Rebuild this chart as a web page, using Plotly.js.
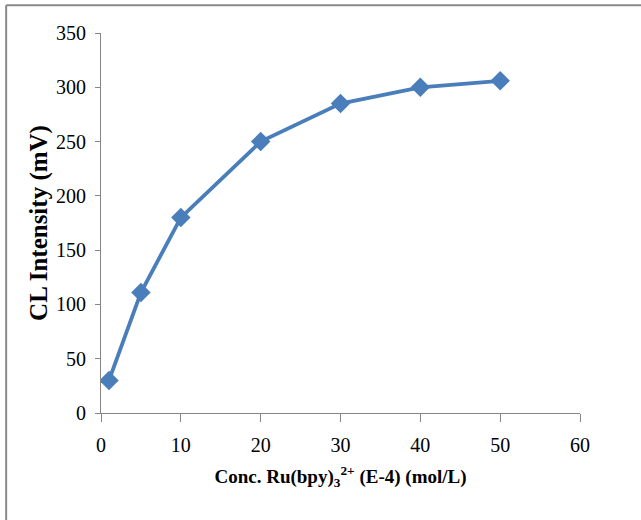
<!DOCTYPE html>
<html>
<head>
<meta charset="utf-8">
<script src="https://cdn.plot.ly/plotly-3.0.1.min.js"></script>
<style>
html,body{margin:0;padding:0;background:#fff;}
#chart{width:641px;height:520px;}
</style>
</head>
<body>
<div id="chart"></div>
<script>
// Data
const concentration = [1, 5, 10, 20, 30, 40, 50];
const clIntensity = [30, 111, 180, 250, 285, 300, 306];
const xTickValues = [0, 10, 20, 30, 40, 50, 60];
const yTickValues = [0, 50, 100, 150, 200, 250, 300, 350];
const xTitle = 'Conc. Ru(bpy)<sub>3</sub><sup>2+</sup> (E-4) (mol/L)';
const yTitle = 'CL Intensity (mV)';

const blue = '#4A7EBB';
const axisGrey = '#868686';
const serif = '"Liberation Serif", "Times New Roman", serif';

const trace = {
  x: concentration,
  y: clIntensity,
  type: 'scatter',
  mode: 'lines+markers',
  line: {color: blue, width: 3.8},
  marker: {symbol: 'diamond', size: 15, color: blue, line: {width: 0}},
  hoverinfo: 'x+y'
};

const layout = {
  width: 641,
  height: 520,
  margin: {l: 101, r: 61, t: 33, b: 107},
  paper_bgcolor: '#ffffff',
  plot_bgcolor: '#ffffff',
  showlegend: false,
  font: {family: serif, color: '#000000', size: 19},
  xaxis: {
    range: [0, 60],
    tickvals: xTickValues,
    ticktext: xTickValues.map(String),
    showgrid: false,
    zeroline: false,
    showline: true,
    linecolor: axisGrey,
    linewidth: 1,
    ticks: 'outside',
    ticklen: 8,
    tickcolor: axisGrey,
    tickwidth: 1,
    tickfont: {family: serif, size: 20, color: '#000000'},
    ticklabelstandoff: 6,
    title: {text: xTitle, font: {family: serif, size: 19, color: '#000000', weight: 'bold'}, standoff: 14},
    fixedrange: true
  },
  yaxis: {
    range: [0, 350],
    tickvals: yTickValues,
    ticktext: yTickValues.map(String),
    showgrid: false,
    zeroline: false,
    showline: true,
    linecolor: axisGrey,
    linewidth: 1,
    ticks: 'outside',
    ticklen: 5,
    tickcolor: axisGrey,
    tickwidth: 1,
    tickfont: {family: serif, size: 20, color: '#000000'},
    ticklabelstandoff: 5,
    title: {text: yTitle, font: {family: serif, size: 25, color: '#000000', weight: 'bold'}, standoff: 1},
    fixedrange: true
  },
  shapes: [
    {type: 'line', xref: 'paper', yref: 'paper', x0: -0.198, x1: 1.2, y0: 1.0733, y1: 1.0733,
     line: {color: '#8a8a8a', width: 2}, layer: 'above'},
    {type: 'line', xref: 'paper', yref: 'paper', x0: -0.198, x1: -0.198, y0: 1.0733, y1: -0.35,
     line: {color: '#8a8a8a', width: 2}, layer: 'above'}
  ]
};

Plotly.newPlot('chart', [trace], layout, {staticPlot: true, displayModeBar: false});
</script>
</body>
</html>
